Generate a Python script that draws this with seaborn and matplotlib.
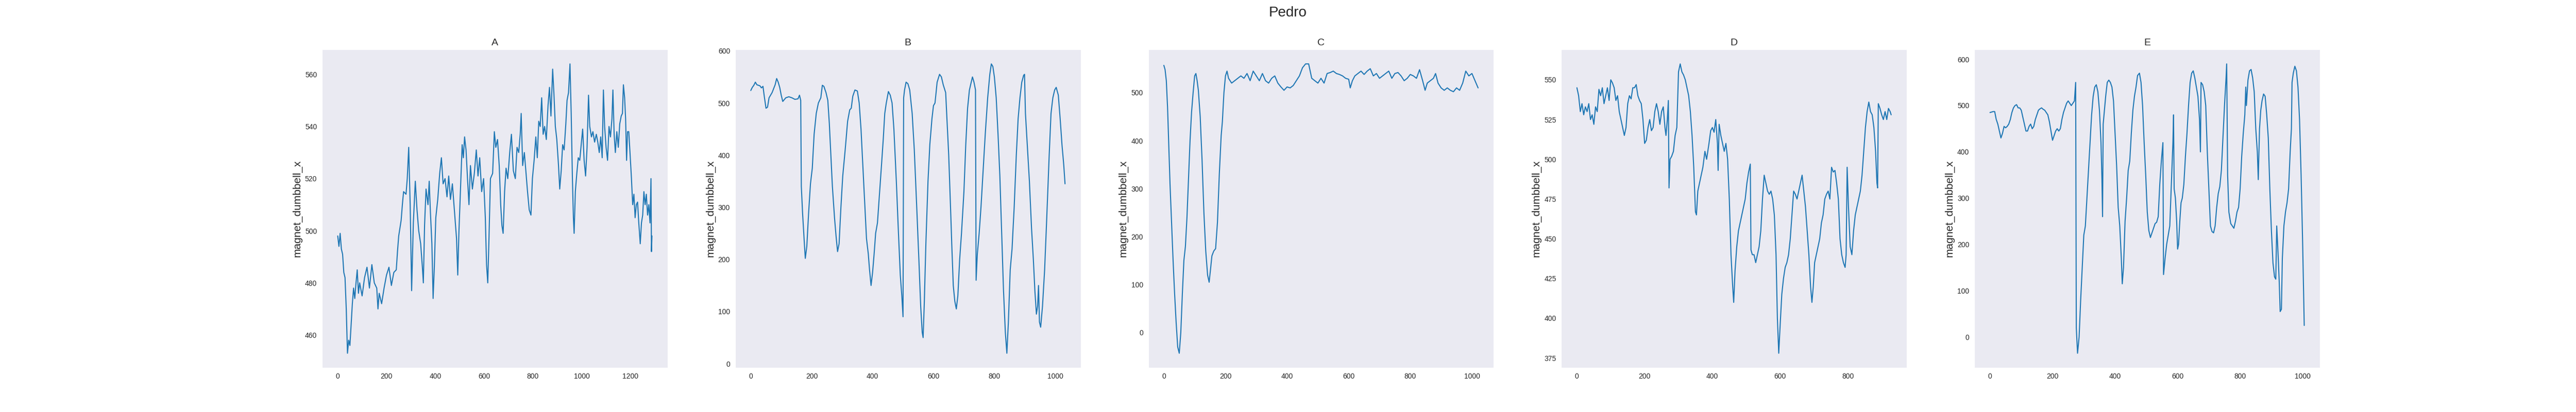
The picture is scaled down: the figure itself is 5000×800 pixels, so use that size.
import numpy as np
import pandas as pd
import matplotlib
matplotlib.use("Agg")
import matplotlib.pyplot as plt
import seaborn as sns

# values (sample index, magnet_dumbbell_x)
a_x = [0, 5, 10, 15, 20, 25, 30, 35, 40, 45, 50, 55, 60, 65, 70, 75, 80, 85, 90, 100, 110, 120, 130, 140, 150, 160, 165, 170, 180, 190, 200, 210, 220, 230, 240, 245, 250, 260, 265, 270, 280, 285, 291, 297, 303, 310, 318, 325, 332, 340, 347, 351, 356, 362, 370, 375, 380, 386, 391, 396, 402, 410, 418, 425, 432, 440, 448, 455, 462, 470, 478, 487, 492, 497, 503, 510, 515, 520, 526, 532, 538, 544, 552, 560, 568, 575, 582, 590, 598, 605, 610, 615, 620, 626, 635, 642, 648, 655, 662, 668, 673, 678, 684, 690, 697, 705, 712, 720, 728, 735, 742, 748, 752, 758, 765, 772, 778, 785, 792, 798, 805, 812, 818, 824, 830, 836, 842, 848, 855, 862, 868, 874, 881, 886, 892, 898, 905, 910, 916, 922, 928, 935, 940, 946, 952, 957, 962, 966, 969, 974, 980, 986, 992, 998, 1004, 1010, 1016, 1022, 1028, 1033, 1040, 1046, 1053, 1060, 1066, 1072, 1078, 1084, 1089, 1094, 1100, 1106, 1112, 1118, 1124, 1128, 1133, 1138, 1144, 1150, 1156, 1162, 1167, 1171, 1176, 1180, 1184, 1188, 1193, 1198, 1204, 1209, 1214, 1219, 1224, 1229, 1234, 1240, 1245, 1250, 1255, 1260, 1265, 1270, 1275, 1280, 1284, 1286, 1288]
a_y = [498, 494, 499, 493, 491, 484, 482, 470, 453, 458, 456, 464, 472, 478, 474, 480, 485, 476, 480, 475, 482, 486, 478, 487, 480, 478, 470, 476, 472, 478, 483, 486, 479, 484, 485, 492, 498, 504, 510, 515, 514, 520, 532, 510, 477, 503, 519, 508, 500, 495, 486, 480, 502, 516, 510, 519, 507, 495, 474, 486, 505, 512, 522, 528, 518, 520, 513, 521, 512, 518, 508, 497, 483, 500, 515, 533, 528, 536, 531, 520, 510, 525, 516, 522, 531, 521, 528, 515, 520, 505, 487, 480, 497, 520, 522, 538, 532, 535, 525, 510, 502, 499, 515, 524, 520, 530, 537, 523, 520, 532, 530, 537, 545, 525, 530, 522, 515, 508, 506, 520, 527, 536, 528, 542, 540, 551, 537, 540, 535, 548, 555, 544, 562, 553, 540, 535, 525, 516, 523, 533, 531, 541, 550, 553, 564, 545, 520, 505, 499, 515, 522, 528, 527, 533, 539, 527, 521, 532, 552, 540, 536, 538, 534, 537, 534, 530, 536, 528, 554, 540, 532, 527, 540, 536, 543, 554, 537, 530, 538, 532, 541, 544, 545, 556, 551, 543, 527, 538, 538, 530, 520, 510, 514, 505, 510, 511, 503, 495, 503, 506, 515, 510, 514, 506, 510, 503, 520, 492, 498]

b_x = [0, 5, 10, 15, 20, 30, 35, 40, 45, 50, 55, 60, 70, 80, 85, 90, 95, 100, 105, 115, 125, 135, 145, 155, 160, 164, 166, 170, 175, 179, 184, 190, 196, 202, 208, 215, 222, 230, 235, 240, 247, 253, 258, 263, 268, 275, 280, 285, 290, 296, 302, 310, 318, 325, 330, 335, 342, 350, 356, 362, 368, 375, 380, 386, 390, 395, 400, 405, 410, 416, 422, 428, 435, 440, 445, 452, 458, 464, 470, 478, 485, 491, 496, 500, 502, 505, 510, 516, 522, 530, 537, 545, 552, 558, 563, 566, 570, 575, 582, 588, 595, 600, 605, 612, 620, 626, 632, 640, 645, 650, 656, 660, 665, 670, 675, 680, 686, 692, 700, 706, 712, 718, 724, 728, 733, 738, 740, 744, 750, 756, 762, 770, 778, 785, 790, 795, 800, 806, 812, 818, 824, 830, 836, 841, 846, 852, 858, 865, 872, 878, 884, 890, 896, 899, 902, 908, 915, 922, 928, 933, 938, 942, 945, 948, 952, 958, 965, 972, 980, 986, 992, 998, 1003, 1010, 1016, 1022, 1028, 1032]
b_y = [524, 530, 534, 540, 535, 533, 529, 532, 510, 490, 492, 510, 520, 535, 547, 540, 530, 515, 503, 510, 512, 510, 507, 508, 515, 505, 340, 290, 240, 202, 225, 290, 345, 375, 440, 480, 500, 510, 534, 532, 520, 505, 460, 400, 340, 280, 245, 215, 230, 300, 360, 410, 465, 487, 490, 513, 525, 523, 500, 450, 380, 300, 240, 210, 180, 150, 175, 210, 250, 270, 320, 370, 430, 480, 500, 522, 515, 500, 450, 350, 250, 170, 130, 90, 510, 525, 540, 537, 525, 480, 410, 300, 200, 110, 60, 50, 120, 230, 350, 420, 470, 495, 500, 540, 555, 550, 535, 520, 460, 400, 300, 230, 150, 120, 105, 130, 200, 250, 330, 420, 490, 525, 540, 550, 540, 525, 160, 210, 250, 300, 360, 440, 510, 555, 575, 570, 550, 510, 440, 360, 250, 140, 60, 20, 80, 180, 220, 300, 400, 470, 510, 540, 553, 555, 480, 420, 350, 260, 200, 140, 95, 110, 150, 80, 70, 110, 180, 280, 400, 480, 510, 525, 530, 515, 470, 420, 380, 345]

c_x = [0, 4, 8, 12, 16, 20, 25, 30, 35, 40, 45, 50, 55, 60, 65, 70, 75, 80, 85, 90, 95, 100, 104, 108, 112, 118, 124, 130, 136, 142, 147, 152, 156, 162, 168, 174, 180, 186, 190, 195, 200, 205, 210, 220, 230, 240, 250, 260, 270, 280, 290, 300, 310, 320, 330, 340, 350, 360, 370, 380, 390, 400, 410, 420, 430, 440, 450, 460, 470, 475, 480, 490, 500, 510, 520, 530, 540, 550, 560, 570, 580, 590, 600, 605, 612, 620, 630, 640, 650, 660, 670, 680, 690, 700, 710, 720, 730, 740, 750, 760, 770, 780, 790, 800, 810, 820, 830, 840, 848, 855, 865, 875, 882, 890, 900, 910, 920, 930, 940, 950, 960, 970, 980, 990, 1000, 1010, 1020]
c_y = [557, 548, 525, 470, 390, 310, 230, 150, 80, 20, -30, -43, 0, 80, 150, 180, 240, 320, 400, 460, 500, 535, 540, 525, 505, 450, 360, 250, 170, 120, 105, 135, 160, 170, 175, 230, 330, 410, 440, 500, 535, 545, 530, 520, 525, 530, 535, 530, 540, 525, 545, 535, 525, 540, 525, 520, 530, 535, 520, 512, 505, 512, 510, 515, 525, 535, 552, 560, 560, 545, 530, 525, 520, 530, 520, 540, 542, 545, 540, 538, 535, 530, 528, 510, 525, 535, 540, 545, 538, 545, 550, 535, 540, 530, 535, 540, 545, 530, 540, 542, 535, 525, 530, 538, 535, 530, 548, 525, 505, 520, 525, 530, 540, 520, 510, 505, 510, 505, 502, 510, 505, 520, 545, 535, 540, 525, 510]

d_x = [0, 5, 10, 15, 20, 25, 30, 35, 40, 45, 50, 55, 60, 65, 70, 75, 80, 85, 90, 95, 100, 105, 110, 115, 120, 125, 130, 135, 140, 145, 150, 155, 160, 165, 170, 175, 180, 185, 190, 195, 200, 205, 210, 215, 220, 225, 230, 235, 240, 245, 250, 255, 260, 263, 267, 270, 272, 275, 280, 285, 290, 295, 300, 305, 310, 315, 320, 325, 330, 335, 340, 345, 350, 353, 357, 362, 367, 372, 378, 383, 390, 395, 400, 405, 410, 415, 417, 420, 425, 430, 435, 440, 445, 450, 455, 460, 463, 467, 472, 477, 482, 487, 492, 497, 502, 507, 512, 514, 518, 523, 528, 533, 538, 543, 548, 553, 558, 563, 568, 573, 578, 583, 588, 592, 596, 600, 605, 610, 615, 620, 625, 630, 635, 640, 645, 650, 655, 660, 665, 670, 675, 680, 685, 690, 694, 698, 702, 707, 712, 717, 722, 727, 732, 737, 742, 747, 752, 757, 762, 767, 772, 777, 782, 787, 792, 795, 798, 802, 807, 812, 817, 822, 827, 832, 837, 842, 847, 852, 857, 862, 867, 872, 877, 882, 886, 888, 890, 895, 900, 905, 910, 915, 920, 925, 928]
d_y = [545, 540, 530, 535, 528, 533, 530, 535, 525, 528, 522, 533, 530, 544, 540, 545, 535, 540, 545, 537, 550, 548, 545, 537, 540, 530, 525, 520, 515, 520, 535, 540, 538, 545, 545, 547, 540, 537, 535, 525, 510, 512, 520, 525, 518, 520, 530, 535, 530, 522, 530, 533, 520, 515, 525, 537, 482, 500, 502, 505, 515, 520, 555, 560, 555, 553, 550, 545, 540, 530, 515, 495, 467, 465, 480, 485, 490, 495, 505, 500, 510, 518, 520, 517, 525, 510, 493, 522, 515, 510, 505, 510, 500, 475, 440, 420, 410, 430, 445, 455, 460, 465, 470, 475, 485, 492, 497, 443, 440, 440, 435, 440, 445, 455, 475, 490, 485, 480, 478, 480, 475, 465, 440, 400, 378, 395, 415, 425, 432, 435, 440, 450, 465, 480, 478, 475, 480, 485, 490, 480, 470, 455, 440, 420, 410, 420, 435, 440, 445, 450, 460, 465, 475, 478, 480, 475, 495, 492, 493, 485, 475, 450, 440, 435, 432, 440, 495, 470, 445, 440, 455, 465, 470, 475, 480, 490, 505, 520, 530, 536, 530, 528, 520, 505, 485, 482, 535, 532, 528, 525, 530, 525, 532, 530, 528]

e_x = [0, 10, 15, 20, 25, 30, 35, 40, 45, 50, 55, 60, 65, 70, 75, 80, 85, 90, 95, 100, 105, 110, 115, 120, 125, 130, 135, 140, 145, 150, 155, 160, 165, 170, 175, 180, 185, 190, 195, 200, 205, 210, 215, 220, 225, 230, 235, 240, 245, 250, 255, 260, 265, 270, 274, 276, 280, 285, 290, 295, 300, 305, 310, 315, 320, 325, 330, 335, 340, 345, 350, 355, 358, 360, 362, 366, 370, 375, 380, 385, 390, 395, 400, 405, 410, 415, 420, 423, 427, 432, 437, 442, 447, 452, 457, 462, 467, 472, 478, 483, 488, 493, 498, 503, 508, 513, 518, 523, 528, 533, 538, 543, 548, 553, 555, 560, 565, 570, 575, 580, 585, 587, 589, 593, 597, 600, 603, 607, 611, 615, 620, 625, 630, 635, 640, 645, 650, 655, 660, 665, 670, 673, 675, 680, 685, 690, 695, 700, 705, 710, 715, 720, 725, 730, 735, 740, 745, 750, 755, 757, 760, 764, 770, 775, 780, 785, 790, 795, 800, 805, 810, 815, 818, 820, 825, 830, 835, 840, 845, 850, 855, 858, 862, 866, 870, 875, 880, 885, 890, 895, 900, 905, 910, 914, 917, 920, 925, 928, 932, 935, 940, 945, 950, 955, 960, 964, 966, 970, 975, 980, 985, 990, 995, 1000, 1005]
e_y = [485, 487, 487, 470, 460, 445, 430, 440, 455, 452, 455, 460, 470, 485, 495, 500, 502, 495, 495, 490, 475, 460, 445, 445, 455, 460, 450, 455, 470, 480, 490, 493, 495, 492, 490, 485, 480, 465, 445, 425, 435, 445, 450, 445, 450, 470, 485, 495, 505, 510, 505, 500, 505, 510, 550, 20, -35, 0, 80, 150, 220, 240, 300, 360, 420, 480, 520, 540, 545, 530, 490, 420, 340, 260, 460, 490, 520, 550, 555, 550, 540, 510, 440, 370, 280, 240, 170, 115, 150, 250, 300, 360, 380, 440, 490, 520, 540, 565, 570, 550, 500, 420, 350, 270, 230, 215, 225, 235, 245, 248, 260, 330, 380, 420, 135, 170, 200, 220, 240, 330, 420, 480, 320, 300, 250, 190, 200, 250, 290, 300, 330, 390, 440, 500, 550, 570, 575, 560, 540, 520, 470, 400, 550, 545, 530, 500, 400, 320, 240, 228, 225, 240, 280, 310, 325, 360, 430, 500, 560, 590, 350, 270, 245, 240, 235, 250, 270, 280, 320, 390, 440, 480, 540, 500, 555, 575, 578, 560, 530, 450, 400, 340, 450, 490, 510, 525, 520, 480, 430, 320, 230, 160, 130, 125, 240, 200, 120, 55, 60, 170, 240, 270, 290, 320, 400, 450, 550, 570, 585, 575, 540, 470, 350, 200, 25]

panels = ["A", "B", "C", "D", "E"]
series = [(a_x, a_y), (b_x, b_y), (c_x, c_y), (d_x, d_y), (e_x, e_y)]

sns.set_style("dark")
plt.rcParams['font.family'] = ['Liberation Sans', 'DejaVu Sans']

fig, axes = plt.subplots(1, 5, figsize=(50, 8), dpi=100)
fig.subplots_adjust(left=0.125, right=0.9006, top=0.88, bottom=0.1075, wspace=0.195)

for ax, name, (xs, ys) in zip(axes, panels, series):
    df = pd.DataFrame({"idx": xs, "magnet_dumbbell_x": ys})
    sns.lineplot(data=df, x="idx", y="magnet_dumbbell_x", ax=ax, color="#1f77b4", linewidth=1.5)
    ax.set_title(name, fontsize=14)
    ax.set_xlabel("")
    ax.set_ylabel("magnet_dumbbell_x", fontsize=15)
    ax.tick_params(labelsize=10)

fig.suptitle("Pedro", fontsize=20, y=0.985)
fig.savefig("out.png", dpi=100)
